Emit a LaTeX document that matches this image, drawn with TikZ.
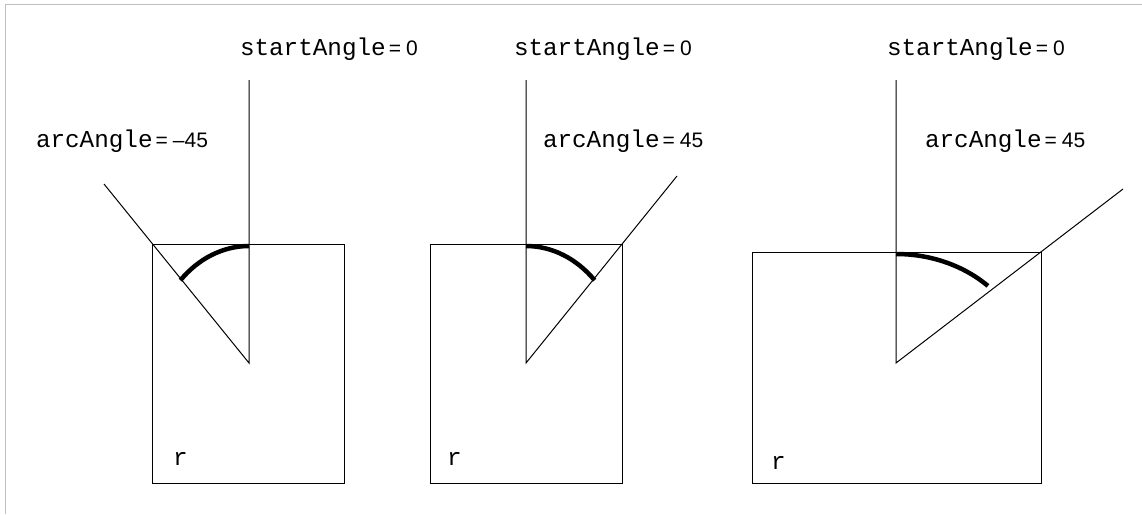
\documentclass[tikz,border=0pt]{standalone}
\usepackage{fontspec}
\newfontfamily\monof{Liberation Mono}
\newfontfamily\sansf{Liberation Sans}
\newcommand\mylbl[2]{{\monof\fontsize{24.3pt}{28pt}\selectfont #1}\kern3pt{\sansf\fontsize{21pt}{25pt}\selectfont =\kern5pt#2}}
\tikzset{
  frameline/.style={draw=black!25, line width=1.5pt},
  boxline/.style={draw=black, line width=1pt},
  ray/.style={draw=black, line width=1pt},
  arcline/.style={draw=black, line width=4.5pt},
  lbl/.style={anchor=base west, inner sep=0pt, outer sep=0pt},
}
\begin{document}
\begin{tikzpicture}[x=1pt,y=1pt]
\useasboundingbox (0,0) rectangle (1142,-514);
% frame
\draw[frameline] (5.5,-514) -- (5.5,-4.5) -- (1142,-4.5);

% panel 1
\coordinate (c1) at (249,-363);
\coordinate (v1) at (249,-80);
\coordinate (d1) at (104,-184);
\draw[boxline] (152,-244) rectangle (344,-483);
\draw[ray] (v1) -- (c1) -- (d1);
\draw[arcline] (249,-246) arc[start angle=90, end angle=135, x radius=97pt, y radius=117pt];
\node[lbl] (s1) at (240,-55) {\mylbl{startAngle}{0}};
\node[lbl] (a1) at (36,-147) {\mylbl{arcAngle}{\textendash45}};
\node[lbl] (r1) at (173,-465) {\monof\fontsize{24.3pt}{28pt}\selectfont r};

% panel 2
\coordinate (c2) at (526,-363);
\coordinate (v2) at (526,-80);
\coordinate (d2) at (677,-176);
\draw[boxline] (430,-244) rectangle (622,-483);
\draw[ray] (v2) -- (c2) -- (d2);
\draw[arcline] (526,-246) arc[start angle=90, end angle=45, x radius=97pt, y radius=117pt];
\node[lbl] (s2) at (514,-55) {\mylbl{startAngle}{0}};
\node[lbl] (a2) at (543,-147) {\mylbl{arcAngle}{45}};
\node[lbl] (r2) at (447,-465) {\monof\fontsize{24.3pt}{28pt}\selectfont r};

% panel 3
\coordinate (c3) at (896,-363);
\coordinate (v3) at (896,-80);
\coordinate (d3) at (1123,-189);
\draw[boxline] (752,-252) rectangle (1041,-483);
\draw[ray] (v3) -- (c3) -- (d3);
\draw[arcline] (896,-254) arc[start angle=90, end angle=45, x radius=130pt, y radius=109pt];
\node[lbl] (s3) at (887,-55) {\mylbl{startAngle}{0}};
\node[lbl] (a3) at (925,-147) {\mylbl{arcAngle}{45}};
\node[lbl] (r3) at (771,-469) {\monof\fontsize{24.3pt}{28pt}\selectfont r};
\end{tikzpicture}
\end{document}
